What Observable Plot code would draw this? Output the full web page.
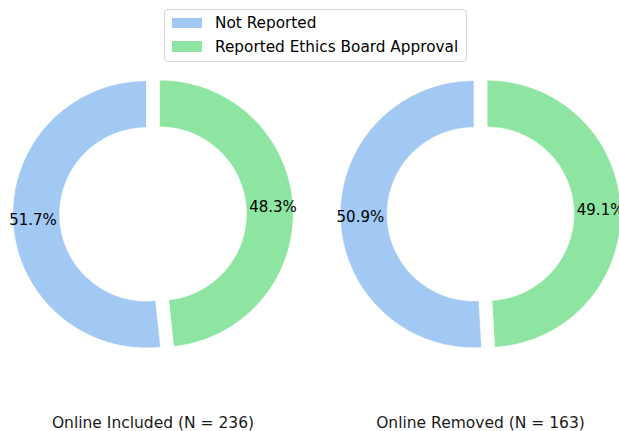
<!DOCTYPE html>
<html>
<head>
<meta charset="utf-8">
<script src="https://cdn.jsdelivr.net/npm/d3@7"></script>
<script src="https://cdn.jsdelivr.net/npm/@observablehq/plot@0.6"></script>
<style>
  html, body { margin: 0; padding: 0; background: #fff; }
  #wrap { position: relative; width: 619px; height: 431px; overflow: hidden; font-family: "DejaVu Sans", sans-serif; }
  #legend { position: absolute; left: 164px; top: 9px; width: 301px; height: 51px; border: 1px solid #d6d6d6; border-radius: 4px; background: rgba(255,255,255,0.85); }
  .row { position: absolute; left: 0; height: 20px; display: flex; align-items: center; }
  .sw { width: 30px; height: 10.5px; margin-left: 7px; margin-right: 13px; }
  .lab { font-size: 15.3px; color: #000; white-space: nowrap; }
</style>
</head>
<body>
<div id="wrap"><div id="chart"></div><div id="legend"></div></div>
<script>
// ---- data ----
const groups = ["Online Included (N = 236)", "Online Removed (N = 163)"];
const categories = ["Not Reported", "Reported Ethics Board Approval"];
const notReportedCounts = [122, 83];
const reportedCounts = [114, 80];
const colors = ["#a1c9f4", "#8de5a1"];

// ---- layout (in units of outer radius) ----
const pxPerUnit = 133.5;
const centerX = [0, 327.5 / pxPerUnit];
const innerR = 0.65, outerR = 1, explode = 0.05, pctDist = 0.85;
const W = 619, H = 431, cxPx = 152.5, cyPx = 213.5;

const arcs = [], labels = [], titles = [];
groups.forEach((g, gi) => {
  const counts = [notReportedCounts[gi], reportedCounts[gi]];
  const total = d3.sum(counts);
  let start = 90;
  counts.forEach((c, ci) => {
    const sweep = 360 * c / total;
    const a0 = start, a1 = start + sweep, mid = (a0 + a1) / 2;
    const mr = mid * Math.PI / 180;
    const ox = centerX[gi] + explode * Math.cos(mr), oy = explode * Math.sin(mr);
    const key = g + "|" + categories[ci];
    const n = Math.max(2, Math.ceil(sweep * 2));
    for (let k = 0; k <= n; k++) {
      const a = (a0 + (a1 - a0) * k / n) * Math.PI / 180;
      arcs.push({key, cat: categories[ci], x: ox + outerR * Math.cos(a), y: oy + outerR * Math.sin(a)});
    }
    for (let k = n; k >= 0; k--) {
      const a = (a0 + (a1 - a0) * k / n) * Math.PI / 180;
      arcs.push({key, cat: categories[ci], x: ox + innerR * Math.cos(a), y: oy + innerR * Math.sin(a)});
    }
    labels.push({x: ox + pctDist * Math.cos(mr), y: oy + pctDist * Math.sin(mr), text: (100 * c / total).toFixed(1) + "%"});
    start = a1;
  });
  titles.push({x: centerX[gi], y: (cyPx - 423) / pxPerUnit, text: g});
});

const chart = Plot.plot({
  width: W, height: H,
  margin: 0,
  x: {domain: [-cxPx / pxPerUnit, (W - cxPx) / pxPerUnit], axis: null},
  y: {domain: [(cyPx - H) / pxPerUnit, cyPx / pxPerUnit], axis: null},
  color: {domain: categories, range: colors},
  style: {fontFamily: "DejaVu Sans, sans-serif", background: "white"},
  marks: [
    Plot.line(arcs, {x: "x", y: "y", z: "key", fill: "cat", stroke: "white", strokeWidth: 0.5, curve: "linear-closed"}),
    Plot.text(labels, {x: "x", y: "y", text: "text", fontSize: 15, fill: "black"}),
    Plot.text(titles, {x: "x", y: "y", text: "text", fontSize: 15.5, fill: "#1a1a1a"})
  ]
});
document.getElementById("chart").appendChild(chart);

const legend = document.getElementById("legend");
categories.forEach((c, i) => {
  const row = document.createElement("div");
  row.className = "row";
  row.style.top = (3 + i * 23.5) + "px";
  row.innerHTML = `<div class="sw" style="background:${colors[i]}"></div><span class="lab">${c}</span>`;
  legend.appendChild(row);
});
</script>
</body>
</html>
